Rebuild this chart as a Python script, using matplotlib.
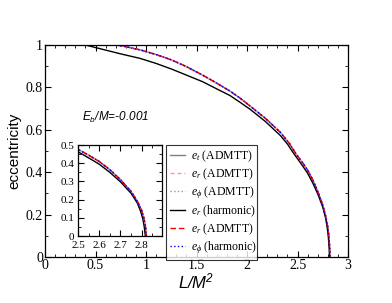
import matplotlib
matplotlib.use("Agg")
import matplotlib.pyplot as plt
from matplotlib.ticker import MultipleLocator, FuncFormatter

# ADMTT curves (e_t, e_r, e_phi nearly overlap)
L_adm = [0.71, 0.8, 0.95, 1.1, 1.25, 1.4, 1.56, 1.7, 1.83, 1.93, 2.03, 2.18, 2.33, 2.42,
         2.49, 2.55, 2.6, 2.65, 2.7, 2.75, 2.78, 2.8, 2.81, 2.818, 2.822]
e_adm = [1.0, 0.992, 0.976, 0.955, 0.93, 0.898, 0.858, 0.82, 0.783, 0.75, 0.712, 0.655, 0.588, 0.535,
         0.483, 0.445, 0.41, 0.365, 0.31, 0.245, 0.19, 0.14, 0.1, 0.05, 0.0]
# harmonic curves
L_har = [0.40, 0.5, 0.6, 0.75, 0.94, 1.1, 1.25, 1.4, 1.56, 1.7, 1.83, 1.93, 2.03, 2.18, 2.33,
         2.4, 2.46, 2.55, 2.6, 2.65, 2.7, 2.75, 2.78, 2.795, 2.805, 2.812, 2.817]
e_har = [1.0, 0.988, 0.976, 0.958, 0.937, 0.913, 0.887, 0.858, 0.827, 0.793, 0.762, 0.73, 0.697, 0.64, 0.573,
         0.533, 0.49, 0.43, 0.395, 0.35, 0.298, 0.235, 0.18, 0.135, 0.095, 0.05, 0.0]

labels = [r"$e_t$ (ADMTT)", r"$e_r$ (ADMTT)", r"$e_\phi$ (ADMTT)",
          r"$e_r$ (harmonic)", r"$e_r$ (ADMTT)", r"$e_\phi$ (harmonic)"]

plt.rcParams['font.family'] = 'Liberation Serif'
plt.rcParams['mathtext.fontset'] = 'custom'
plt.rcParams['mathtext.it'] = 'Liberation Serif:italic'
plt.rcParams['mathtext.rm'] = 'Liberation Serif'
plt.rcParams['mathtext.sf'] = 'Liberation Sans:italic'

fig = plt.figure(figsize=(3.92, 3.03), dpi=100)
ax = fig.add_axes([0.1148, 0.1518, 0.773, 0.6997])


def draw(a, lw=1.0):
    h = []
    h += a.plot(L_adm, e_adm, color='gray', lw=lw, ls='-')
    h += a.plot(L_adm, e_adm, color='#ff9999', lw=lw, ls='--', dashes=(3, 2))
    h += a.plot(L_adm, e_adm, color='#8888ff', lw=lw, ls=':')
    h += a.plot(L_har, e_har, color='black', lw=lw, ls='-')
    h += a.plot(L_adm, e_adm, color='red', lw=lw, ls='--', dashes=(4, 2))
    h += a.plot(L_adm, e_adm, color='blue', lw=lw, ls=':')
    return h


def style(a, size):
    a.tick_params(which='both', direction='in', top=True, right=True, labelsize=size, pad=1.5)
    a.tick_params(which='major', length=4)
    a.tick_params(which='minor', length=2)
    a.xaxis.set_major_formatter(FuncFormatter(lambda v, p: '%g' % round(v, 3)))
    a.yaxis.set_major_formatter(FuncFormatter(lambda v, p: '%g' % round(v, 3)))
    for s in a.spines.values():
        s.set_linewidth(0.9)


handles = draw(ax)
ax.set_xlim(0, 3)
ax.set_ylim(0, 1)
ax.xaxis.set_major_locator(MultipleLocator(0.5))
ax.xaxis.set_minor_locator(MultipleLocator(0.1))
ax.yaxis.set_major_locator(MultipleLocator(0.2))
ax.yaxis.set_minor_locator(MultipleLocator(0.1))
style(ax, 10)
ax.set_xlabel(r"$\mathsf{L/M^2}$", fontsize=12, labelpad=0)
ax.set_ylabel("eccentricity", fontsize=11, family='Liberation Sans', labelpad=3)
fig.text(0.209, 0.614, r"$\mathsf{E_b/M}$=-0.001", fontsize=8.5,
         family='Liberation Sans', style='italic', va='center')

leg = fig.legend(handles, labels, loc='upper left', bbox_to_anchor=(0.4235, 0.185, 0.232, 0.337),
                 mode='expand', fontsize=8.5, frameon=True, fancybox=False, edgecolor='black',
                 handlelength=1.3, handletextpad=0.5, labelspacing=0.22, borderpad=0.3,
                 borderaxespad=0)
leg.get_frame().set_linewidth(0.8)

ins = fig.add_axes([0.199, 0.221, 0.214, 0.300])
draw(ins)
ins.set_xlim(2.5, 2.895)
ins.set_ylim(0, 0.5)
ins.set_xticks([2.5, 2.6, 2.7, 2.8])
ins.xaxis.set_minor_locator(MultipleLocator(0.05))
ins.yaxis.set_major_locator(MultipleLocator(0.1))
ins.yaxis.set_minor_locator(MultipleLocator(0.05))
style(ins, 8)
ins.tick_params(axis='x', pad=3.5)
ins.tick_params(axis='y', pad=2.5)

fig.savefig("out.png", dpi=100)
